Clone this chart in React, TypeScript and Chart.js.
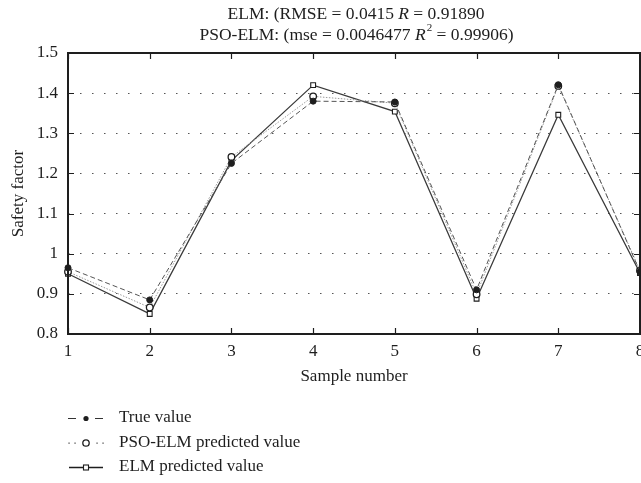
import React, { useEffect, useRef } from "react";
import { Chart, registerables } from "chart.js";

Chart.register(...registerables);

const FONT = "'Liberation Serif', 'DejaVu Serif', serif";

const samples = ["1", "2", "3", "4", "5", "6", "7", "8"];
const trueValues = [0.965, 0.885, 1.225, 1.38, 1.378, 0.91, 1.421, 0.955];
const psoValues = [0.955, 0.866, 1.241, 1.392, 1.375, 0.899, 1.418, 0.958];
const elmValues = [0.95, 0.85, 1.232, 1.42, 1.354, 0.888, 1.346, 0.952];
const yTicks = [0.8, 0.9, 1.0, 1.1, 1.2, 1.3, 1.4, 1.5];

const titleLine1 = [
  { t: "ELM: (RMSE = 0.0415 " },
  { t: "R", italic: true },
  { t: " = 0.91890" },
];
const titleLine2 = [
  { t: "PSO-ELM: (mse = 0.0046477 " },
  { t: "R", italic: true },
  { t: "2", sup: true },
  { t: " = 0.99906)" },
];
const xTitle = "Sample number";
const yTitle = "Safety factor";
const legendLabels = ["True value", "PSO-ELM predicted value", "ELM predicted value"];

type Part = { t: string; italic?: boolean; sup?: boolean };

function drawRich(ctx: CanvasRenderingContext2D, parts: Part[], cx: number, cy: number, size: number) {
  const fontFor = (p: Part) =>
    `${p.italic ? "italic " : ""}${p.sup ? Math.round(size * 0.65) : size}px ${FONT}`;
  let total = 0;
  for (const p of parts) {
    ctx.font = fontFor(p);
    total += ctx.measureText(p.t).width;
  }
  let x = cx - total / 2;
  ctx.textAlign = "left";
  ctx.textBaseline = "middle";
  for (const p of parts) {
    ctx.font = fontFor(p);
    ctx.fillText(p.t, x + (p.sup ? 1 : 0), p.sup ? cy - size * 0.4 : cy);
    x += ctx.measureText(p.t).width + (p.sup ? 1 : 0);
  }
}

const framePlugin = {
  id: "frame",
  afterDraw(chart: any) {
    const { ctx, chartArea, scales } = chart;
    const { left, right, top, bottom } = chartArea;
    const x = scales.x;
    const y = scales.y;
    ctx.save();
    ctx.strokeStyle = "#1e1e1e";
    ctx.lineWidth = 1.2;
    ctx.setLineDash([]);
    ctx.beginPath();
    samples.forEach((_, i) => {
      const px = Math.round(x.getPixelForValue(i)) + 0.5;
      ctx.moveTo(px, bottom);
      ctx.lineTo(px, bottom - 6);
      ctx.moveTo(px, top);
      ctx.lineTo(px, top + 6);
    });
    yTicks.forEach((v) => {
      const py = Math.round(y.getPixelForValue(v)) + 0.5;
      ctx.moveTo(left, py);
      ctx.lineTo(left + 6, py);
      ctx.moveTo(right, py);
      ctx.lineTo(right - 6, py);
    });
    ctx.stroke();
    ctx.lineWidth = 2;
    ctx.strokeRect(left, top, right - left, bottom - top);

    // titles
    ctx.fillStyle = "#1e1e1e";
    const cx = (left + right) / 2;
    drawRich(ctx, titleLine1, cx + 2, 14, 17.5);
    drawRich(ctx, titleLine2, cx + 2, 35, 17.5);

    ctx.font = `17px ${FONT}`;
    ctx.textAlign = "center";
    ctx.textBaseline = "middle";
    ctx.fillText(xTitle, cx, 377);

    ctx.save();
    ctx.translate(19, (top + bottom) / 2);
    ctx.rotate(-Math.PI / 2);
    ctx.fillText(yTitle, 0, 0);
    ctx.restore();

    // legend
    const rows = [418, 442.5, 467];
    const sx0 = 68;
    const sx1 = 103;
    const mx = 86;
    ctx.font = `17px ${FONT}`;
    ctx.textAlign = "left";
    legendLabels.forEach((lab, i) => {
      const ry = rows[i];
      ctx.fillStyle = "#1e1e1e";
      ctx.fillText(lab, 119, ry);
      ctx.strokeStyle = "#333";
      ctx.lineWidth = 1;
      ctx.setLineDash([]);
      if (i === 0) {
        ctx.beginPath();
        ctx.moveTo(sx0, ry + 0.5);
        ctx.lineTo(sx0 + 8, ry + 0.5);
        ctx.moveTo(sx1 - 8, ry + 0.5);
        ctx.lineTo(sx1, ry + 0.5);
        ctx.stroke();
        ctx.beginPath();
        ctx.arc(mx, ry + 0.5, 2.6, 0, Math.PI * 2);
        ctx.fillStyle = "#1e1e1e";
        ctx.fill();
      } else if (i === 1) {
        ctx.fillStyle = "#555";
        [69, 75, 97, 103].forEach((dx) => ctx.fillRect(dx - 0.6, ry, 1.3, 1.3));
        ctx.beginPath();
        ctx.arc(mx, ry + 0.5, 3.2, 0, Math.PI * 2);
        ctx.fillStyle = "#fff";
        ctx.fill();
        ctx.lineWidth = 1.3;
        ctx.strokeStyle = "#1e1e1e";
        ctx.stroke();
      } else {
        ctx.lineWidth = 1.6;
        ctx.strokeStyle = "#1e1e1e";
        ctx.beginPath();
        ctx.moveTo(sx0 + 1, ry + 0.5);
        ctx.lineTo(sx1, ry + 0.5);
        ctx.stroke();
        ctx.fillStyle = "#fff";
        ctx.fillRect(mx - 2.5, ry - 2, 5, 5);
        ctx.lineWidth = 1.1;
        ctx.strokeRect(mx - 2.5, ry - 2, 5, 5);
      }
    });
    ctx.restore();
  },
};

export default function App() {
  const ref = useRef<HTMLCanvasElement | null>(null);
  useEffect(() => {
    if (!ref.current) return;
    const chart = new Chart(ref.current, {
      type: "line",
      data: {
        labels: samples,
        datasets: [
          {
            label: legendLabels[0],
            data: trueValues,
            borderColor: "#555555",
            borderWidth: 1,
            borderDash: [5, 3],
            pointStyle: "circle",
            pointRadius: 3,
            pointBackgroundColor: "#1e1e1e",
            pointBorderColor: "#1e1e1e",
            pointBorderWidth: 1,
            tension: 0,
            order: 1,
          },
          {
            label: legendLabels[1],
            data: psoValues,
            borderColor: "#9a9a9a",
            borderWidth: 1,
            borderDash: [1.5, 1.5],
            pointStyle: "circle",
            pointRadius: 3.3,
            pointBackgroundColor: "#ffffff",
            pointBorderColor: "#1e1e1e",
            pointBorderWidth: 1.3,
            tension: 0,
            order: 2,
          },
          {
            label: legendLabels[2],
            data: elmValues,
            borderColor: "#3a3a3a",
            borderWidth: 1.3,
            pointStyle: "rect",
            pointRadius: 3.4,
            pointBackgroundColor: "#ffffff",
            pointBorderColor: "#1e1e1e",
            pointBorderWidth: 1.1,
            tension: 0,
            order: 3,
          },
        ],
      },
      options: {
        responsive: false,
        animation: false,
        layout: { padding: { left: 0, right: 20, top: 53, bottom: 0 } },
        plugins: {
          legend: { display: false },
          title: { display: false },
          tooltip: { enabled: false },
        },
        scales: {
          x: {
            type: "category",
            offset: false,
            grid: { display: false, drawTicks: false },
            border: { display: false },
            ticks: {
              color: "#1e1e1e",
              padding: 7,
              maxRotation: 0,
              autoSkip: false,
              font: { family: FONT, size: 17 },
            },
            afterFit: (s: any) => {
              s.height = 149;
            },
          },
          y: {
            min: 0.8,
            max: 1.5,
            grid: {
              color: "#555",
              lineWidth: 1.1,
              drawTicks: false,
            },
            border: { display: false, dash: [1.5, 10.5] },
            ticks: {
              stepSize: 0.1,
              color: "#1e1e1e",
              padding: 10,
              font: { family: FONT, size: 17 },
              callback: (v: any) => String(Number(Number(v).toFixed(1))),
            },
            afterFit: (s: any) => {
              s.width = 68;
            },
          },
        },
      },
      plugins: [framePlugin],
    });
    return () => chart.destroy();
  }, []);
  return (
    <div
      style={{
        position: "fixed",
        left: 0,
        top: 0,
        width: 641,
        height: 483,
        overflow: "hidden",
        background: "#fff",
      }}
    >
      <canvas ref={ref} width={660} height={483} style={{ display: "block" }} />
    </div>
  );
}
